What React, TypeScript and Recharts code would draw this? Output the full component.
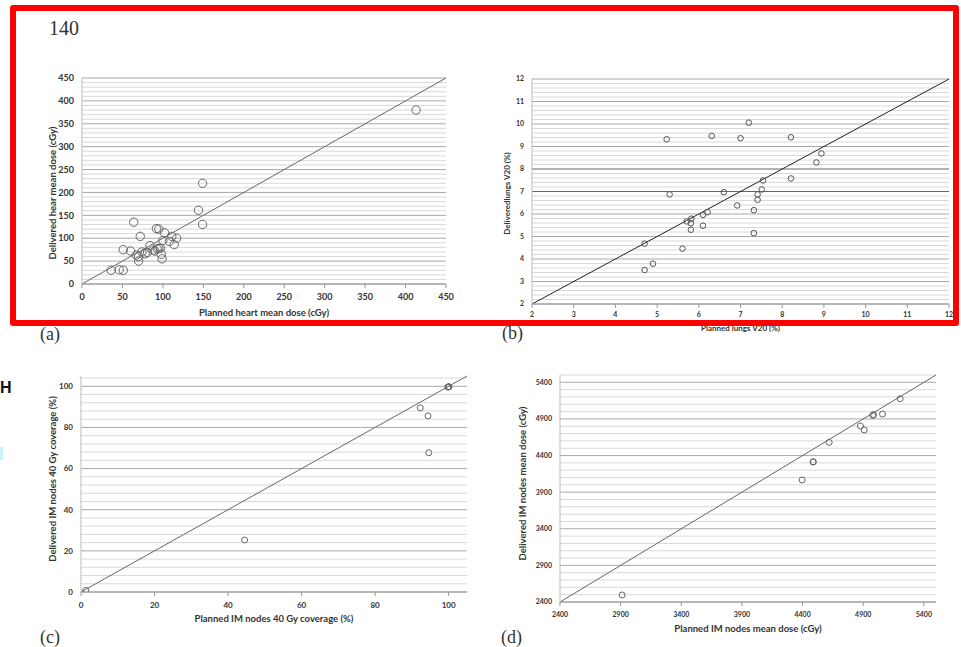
import React from "react";
import { ScatterChart, Scatter, XAxis, YAxis, ReferenceLine } from "recharts";

// (a) heart mean dose (cGy)
const heartPlanned = [413, 149, 144, 149, 64, 72, 92, 95, 102, 111, 117, 108, 114, 100, 51, 60, 84, 90, 95, 97, 81, 78, 74, 70, 70, 98, 99, 36, 46, 51, 93, 88, 67];
const heartDelivered = [380, 220, 161, 130, 135, 104, 121, 120, 112, 104, 100, 93, 86, 95, 75, 72, 84, 72, 78, 78, 69, 66, 70, 60, 50, 65, 55, 30, 31, 30, 77, 74, 63];
const heartTicks = [0, 50, 100, 150, 200, 250, 300, 350, 400, 450];

// (b) lungs V20 (%)
const lungsPlanned = [5.23, 6.31, 7.2, 7.0, 8.21, 8.94, 8.82, 8.21, 7.54, 7.51, 7.41, 7.41, 5.3, 6.6, 6.92, 7.32, 6.21, 6.1, 5.82, 5.71, 5.81, 5.81, 6.1, 7.32, 5.61, 4.7, 4.9, 4.7];
const lungsDelivered = [9.32, 9.47, 10.06, 9.37, 9.41, 8.69, 8.29, 7.58, 7.49, 7.09, 6.87, 6.63, 6.87, 6.97, 6.38, 6.17, 6.08, 5.96, 5.79, 5.67, 5.59, 5.3, 5.48, 5.15, 4.46, 4.68, 3.79, 3.51];
const lungsTicks = [2, 3, 4, 5, 6, 7, 8, 9, 10, 11, 12];

// (c) IM nodes 40 Gy coverage (%)
const covPlanned = [100, 99.8, 100.1, 92.3, 94.4, 94.6, 44.5, 1.3];
const covDelivered = [99.7, 99.6, 99.8, 89.5, 85.6, 67.7, 25.3, 0.8];
const covTicks = [0, 20, 40, 60, 80, 100];

// (d) IM nodes mean dose (cGy)
const imPlanned = [2912, 4396, 4486, 4489, 4619, 4877, 4908, 4979, 4985, 5059, 5205];
const imDelivered = [2496, 4066, 4312, 4315, 4580, 4803, 4749, 4949, 4958, 4967, 5176];
const imTicks = [2400, 2900, 3400, 3900, 4400, 4900, 5400];

const font = "Lato, 'Open Sans', sans-serif";

const gridSteps = (from: number, to: number, step: number, skip: number[]) => {
  const out: number[] = [];
  for (let v = from; v <= to + 1e-9; v += step) {
    const r = Math.round(v * 100) / 100;
    if (!skip.some((s) => Math.abs(s - r) < 1e-6)) out.push(r);
  }
  return out;
};

type PanelProps = {
  left: number;
  top: number;
  width: number;
  height: number;
  margin: { top: number; right: number; left: number; bottom: number };
  yWidth: number;
  xHeight: number;
  domain: [number, number];
  ticks: number[];
  minorStep: number;
  dark?: number[];
  planned: number[];
  delivered: number[];
  r: number;
  dotColor: string;
  diagColor: string;
  tickFont: number;
  xTickMargin: number;
  titleFont: number;
  xTitle: string;
  yTitle: string;
  xTitleOff: number;
  yTitleDx: number;
  yTitleDy: number;
};

const Panel = (p: PanelProps) => {
  const data = p.planned.map((x, i) => ({ x, y: p.delivered[i] }));
  const minor = gridSteps(p.domain[0], p.domain[1], p.minorStep, p.ticks);
  const tick = { fontSize: p.tickFont, fontWeight: 700, fill: "#333", fontFamily: font };
  const titleStyle = { fontSize: p.titleFont, fontWeight: 700, fill: "#333", fontFamily: font };

  const xTitle = (props: any) => {
    const vb = props.viewBox;
    return (
      <text x={vb.x + vb.width / 2} y={vb.y + vb.height - p.xTitleOff} textAnchor="middle" dominantBaseline="central" style={titleStyle}>
        {p.xTitle}
      </text>
    );
  };
  const yTitle = (props: any) => {
    const vb = props.viewBox;
    const cx = vb.x + p.yTitleDx;
    const cy = vb.y + vb.height / 2 + p.yTitleDy;
    return (
      <text transform={`translate(${cx},${cy}) rotate(-90)`} textAnchor="middle" dominantBaseline="central" style={titleStyle}>
        {p.yTitle}
      </text>
    );
  };

  return (
    <div style={{ position: "absolute", left: p.left, top: p.top }}>
      <ScatterChart width={p.width} height={p.height} margin={p.margin}>
        <XAxis
          type="number"
          dataKey="x"
          domain={p.domain}
          ticks={p.ticks}
          interval={0}
          height={p.xHeight}
          tick={tick}
          tickSize={4}
          tickMargin={p.xTickMargin}
          stroke="#999"
          allowDataOverflow
          label={{ value: p.xTitle, content: xTitle }}
        />
        <YAxis
          type="number"
          dataKey="y"
          domain={p.domain}
          ticks={p.ticks}
          interval={0}
          width={p.yWidth}
          tick={tick}
          tickLine={false}
          axisLine={{ stroke: "#bbb" }}
          allowDataOverflow
          label={{ value: p.yTitle, content: yTitle }}
        />
        {minor.map((v) => (
          <ReferenceLine key={"m" + v} y={v} stroke="#d9d9d9" />
        ))}
        {p.ticks.map((v) => (
          <ReferenceLine key={"M" + v} y={v} stroke={p.dark && p.dark.includes(v) ? "#666" : "#a8a8a8"} />
        ))}
        <ReferenceLine
          segment={[
            { x: p.domain[0], y: p.domain[0] },
            { x: p.domain[1], y: p.domain[1] },
          ]}
          stroke={p.diagColor}
        />
        <Scatter
          data={data}
          isAnimationActive={false}
          shape={(s: any) => <circle cx={s.cx} cy={s.cy} r={p.r} fill="none" stroke={p.dotColor} strokeWidth={1} />}
        />
      </ScatterChart>
    </div>
  );
};

const serif = "'Liberation Serif', 'DejaVu Serif', serif";

export default function App() {
  return (
    <div style={{ position: "absolute", left: 0, top: 0, width: 961, height: 647, background: "#fff", overflow: "hidden" }}>
      <div style={{ position: "absolute", left: 49, top: 18, fontFamily: serif, fontSize: 20, lineHeight: 1, color: "#333" }}>140</div>

      <Panel
        left={40} top={60} width={420} height={265}
        margin={{ top: 18, right: 14, left: 0, bottom: 0 }}
        yWidth={42} xHeight={41}
        domain={[0, 450]} ticks={heartTicks} minorStep={10}
        planned={heartPlanned} delivered={heartDelivered}
        r={4.2} dotColor="#666" diagColor="#666"
        tickFont={9} xTickMargin={5.5} titleFont={9.5}
        xTitle="Planned heart mean dose (cGy)" yTitle="Delivered hear mean dose (cGy)"
        xTitleOff={13} yTitleDx={12} yTitleDy={12}
      />
      <Panel
        left={495} top={60} width={460} height={280}
        margin={{ top: 19, right: 6, left: 0, bottom: 0 }}
        yWidth={37} xHeight={36}
        domain={[2, 12]} ticks={lungsTicks} minorStep={0.2} dark={[7, 8]}
        planned={lungsPlanned} delivered={lungsDelivered}
        r={2.8} dotColor="#555" diagColor="#222"
        tickFont={7} xTickMargin={4.5} titleFont={8}
        xTitle="Planned lungs V20 (%)" yTitle="Deliveredlungs V20 (%)"
        xTitleOff={12} yTitleDx={12} yTitleDy={2}
      />
      <Panel
        left={30} top={360} width={445} height={280}
        margin={{ top: 16, right: 8, left: 0, bottom: 0 }}
        yWidth={51} xHeight={48}
        domain={[0, 105]} ticks={covTicks} minorStep={4}
        planned={covPlanned} delivered={covDelivered}
        r={3} dotColor="#666" diagColor="#666"
        tickFont={8} xTickMargin={6} titleFont={9.5}
        xTitle="Planned IM nodes 40 Gy coverage (%)" yTitle="Delivered IM nodes 40 Gy coverage (%)"
        xTitleOff={22} yTitleDx={22} yTitleDy={-5}
      />
      <Panel
        left={495} top={360} width={450} height={282}
        margin={{ top: 15, right: 9, left: 0, bottom: 0 }}
        yWidth={65} xHeight={40}
        domain={[2400, 5500]} ticks={imTicks} minorStep={100}
        planned={imPlanned} delivered={imDelivered}
        r={3} dotColor="#666" diagColor="#666"
        tickFont={7} xTickMargin={6.5} titleFont={9.5}
        xTitle="Planned IM nodes mean dose (cGy)" yTitle="Delivered IM nodes mean dose (cGy)"
        xTitleOff={14} yTitleDx={27} yTitleDy={-5}
      />

      <div style={{ position: "absolute", left: 40, top: 325, fontFamily: serif, fontSize: 18, lineHeight: 1, color: "#333" }}>(a)</div>
      <div style={{ position: "absolute", left: 502, top: 324, fontFamily: serif, fontSize: 18, lineHeight: 1, color: "#333" }}>(b)</div>
      <div style={{ position: "absolute", left: 40, top: 628, fontFamily: serif, fontSize: 18, lineHeight: 1, color: "#333" }}>(c)</div>
      <div style={{ position: "absolute", left: 501, top: 628, fontFamily: serif, fontSize: 18, lineHeight: 1, color: "#333" }}>(d)</div>

      <div style={{ position: "absolute", left: 0, top: 380, fontFamily: "'Liberation Sans', sans-serif", fontWeight: 700, fontSize: 16, lineHeight: 1, color: "#111" }}>H</div>
      <div style={{ position: "absolute", left: 0, top: 447, width: 3, height: 13, background: "#c8f4ff" }} />

      <div
        style={{
          position: "absolute", left: 10, top: 5, width: 949, height: 321, boxSizing: "border-box",
          border: "6px solid #ff0000", borderRadius: 3, pointerEvents: "none",
        }}
      />
    </div>
  );
}
